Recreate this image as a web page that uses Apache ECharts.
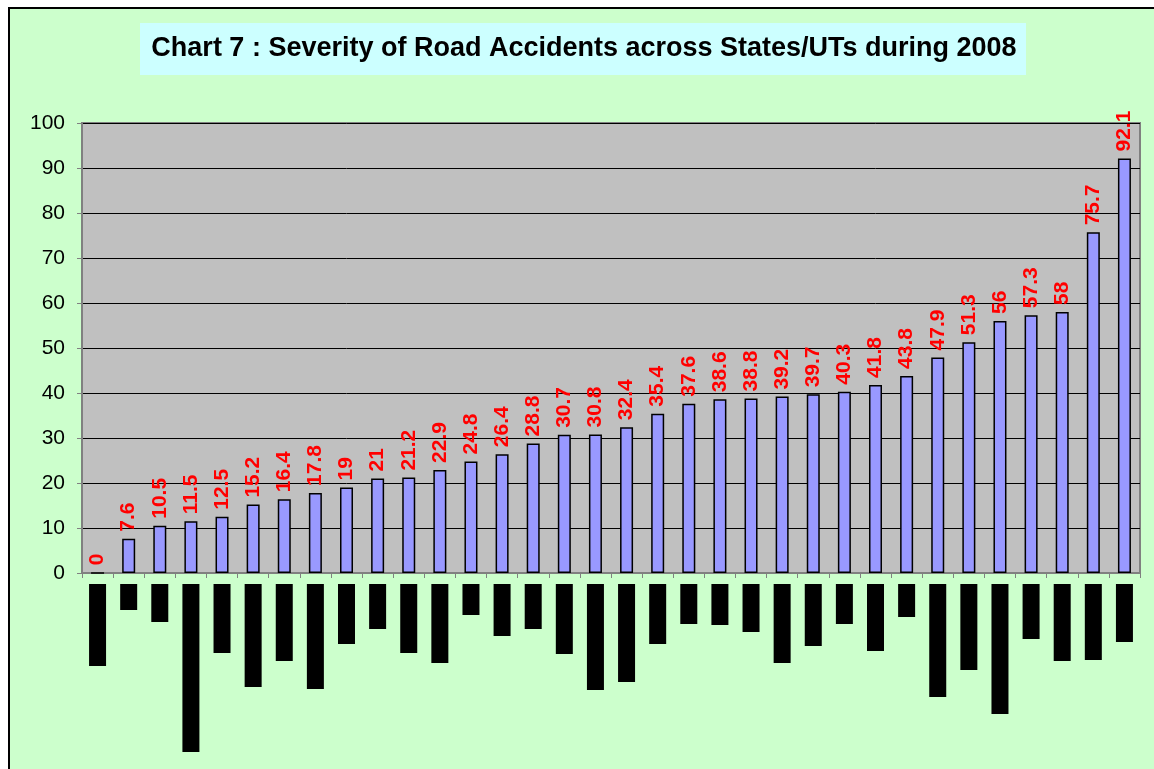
<!DOCTYPE html>
<html>
<head>
<meta charset="utf-8">
<script src="https://cdn.jsdelivr.net/npm/echarts@6/dist/echarts.min.js"></script>
<style>
  html, body { margin: 0; padding: 0; background: #fff; overflow: hidden; }
  #bg {
    position: absolute; left: 8px; top: 7px; width: 1160px; height: 780px;
    background: #CCFFCC; border-left: 2px solid #000; border-top: 2px solid #000;
  }
  #chart { position: absolute; left: 0; top: 0; width: 1154px; height: 769px; }
</style>
</head>
<body>
<div id="bg"></div>
<div id="chart"></div>
<script>
// 34 states/UTs, names are blacked out in the source picture
const categories = [
  "1", "2", "3", "4", "5", "6", "7", "8", "9", "10", "11", "12",
  "13", "14", "15", "16", "17", "18", "19", "20", "21", "22", "23",
  "24", "25", "26", "27", "28", "29", "30", "31", "32", "33", "34",
];
// severity (persons killed per 100 accidents)
const severity = [
  0, 7.6, 10.5, 11.5, 12.5, 15.2, 16.4, 17.8, 19, 21, 21.2, 22.9,
  24.8, 26.4, 28.8, 30.7, 30.8, 32.4, 35.4, 37.6, 38.6, 38.8, 39.2,
  39.7, 40.3, 41.8, 43.8, 47.9, 51.3, 56, 57.3, 58, 75.7, 92.1,
];
// length (px) of the redacted name boxes under the axis
const redactedLabelLen = [
  82, 26, 38, 168, 69, 103, 77, 105, 60, 45, 69, 79,
  31, 52, 45, 70, 106, 98, 60, 40, 41, 48, 79, 62,
  40, 67, 33, 113, 86, 130, 55, 77, 76, 58,
];
const yTicks = [0, 10, 20, 30, 40, 50, 60, 70, 80, 90, 100];

const titleText = "Chart 7 : Severity of Road Accidents across States/UTs during 2008";

const rich = {};
redactedLabelLen.forEach(function (len, i) {
  rich["b" + i] = { width: len, height: 17, backgroundColor: "#000", fontSize: 1 };
});

const chart = echarts.init(document.getElementById("chart"));
chart.setOption({
  backgroundColor: "transparent",
  animation: false,
  textStyle: { fontFamily: "Liberation Sans, Arial, sans-serif" },
  graphic: [
    {
      type: "rect",
      shape: { x: 140, y: 23, width: 886, height: 52 },
      style: { fill: "#CCFFFF" },
    },
    {
      type: "text",
      x: 584,
      y: 49,
      style: {
        text: titleText,
        fill: "#000",
        font: "bold 27px 'Liberation Sans', Arial, sans-serif",
        align: "center",
        verticalAlign: "middle",
      },
    },
  ],
  grid: {
    left: 82,
    right: 14,
    top: 123,
    bottom: 196,
    show: true,
    backgroundColor: "#C0C0C0",
    borderColor: "#808080",
    borderWidth: 2,
  },
  xAxis: {
    type: "category",
    data: categories,
    axisLine: { lineStyle: { color: "#808080", width: 2 } },
    axisTick: { show: true, length: 5, lineStyle: { color: "#808080" } },
    axisLabel: {
      interval: 0,
      rotate: 90,
      margin: 11,
      formatter: function (v, i) { return "{b" + i + "| }"; },
      rich: rich,
    },
  },
  yAxis: {
    type: "value",
    min: yTicks[0],
    max: yTicks[yTicks.length - 1],
    interval: 10,
    axisLine: { show: true, lineStyle: { color: "#808080", width: 2 } },
    axisTick: { show: true, length: 5, lineStyle: { color: "#808080" } },
    axisLabel: { color: "#000", fontSize: 21, margin: 17 },
    splitLine: { lineStyle: { color: "#000", width: 1 } },
  },
  series: [
    {
      type: "bar",
      data: severity,
      barWidth: 13,
      itemStyle: { color: "#9999FF", borderColor: "#000", borderWidth: 1.5 },
      label: {
        show: true,
        position: "top",
        rotate: 90,
        align: "left",
        verticalAlign: "middle",
        distance: 7,
        color: "#FF0000",
        fontWeight: "bold",
        fontSize: 21,
      },
    },
  ],
});
</script>
</body>
</html>
